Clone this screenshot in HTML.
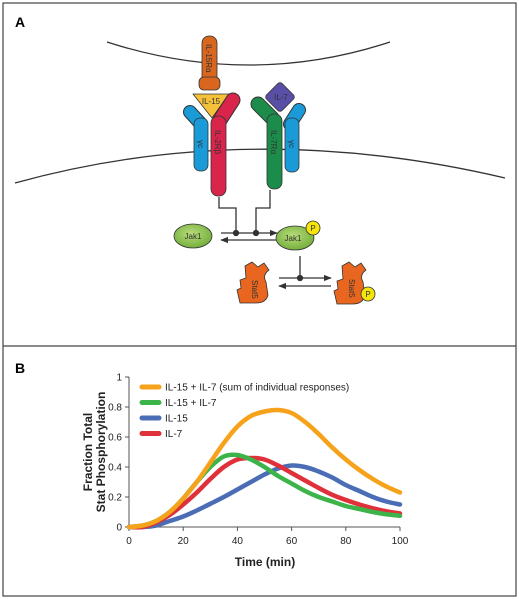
<!DOCTYPE html>
<html><head><meta charset="utf-8"><style>
body{margin:0;background:#fff;font-family:"Liberation Sans",sans-serif}
svg{display:block}
text{font-family:"Liberation Sans",sans-serif}
</style></head><body>
<svg width="519" height="599" viewBox="0 0 519 599">
<defs>
<marker id="ah" viewBox="0 0 10 10" refX="9" refY="5" markerWidth="6" markerHeight="6" orient="auto"><path d="M0,1 L10,5 L0,9 z" fill="#333"/></marker>
<radialGradient id="jg" cx="0.45" cy="0.4" r="0.7"><stop offset="0" stop-color="#b8dc7a"/><stop offset="1" stop-color="#6aa832"/></radialGradient>
</defs>
<rect x="3" y="3" width="513" height="593" fill="none" stroke="#444" stroke-width="1.2"/>
<line x1="3" y1="346" x2="516" y2="346" stroke="#444" stroke-width="1.2"/>
<text x="15" y="27" font-size="14" font-weight="bold">A</text>
<text x="15" y="373" font-size="14" font-weight="bold">B</text>

<g>
<path d="M107,42 Q250,88 390,42" fill="none" stroke="#333" stroke-width="1.3"/>
<path d="M15,183 Q250,118 505,178" fill="none" stroke="#333" stroke-width="1.3"/>
<g>
<rect x="202" y="36" width="15" height="50" rx="7" fill="#d9661f" stroke="#333" stroke-width="0.8"/>
<rect x="199" y="77" width="21" height="13" rx="5" fill="#d9661f" stroke="#333" stroke-width="0.8"/>
<text transform="translate(206,44) rotate(90)" font-size="8" fill="#333">IL-15Rα</text>
</g>
<g>
<path d="M193,94 L229,94 L212,118 Z" fill="#f5c13a" stroke="#333" stroke-width="0.8" stroke-linejoin="round"/>
<text x="211" y="104" font-size="8" text-anchor="middle" fill="#333">IL-15</text>
</g>
<g>
<path d="M190,112 L201,124" stroke="#333" stroke-width="14" stroke-linecap="round"/>
<path d="M190,112 L201,124" stroke="#1a9ad6" stroke-width="12" stroke-linecap="round"/>
<rect x="194" y="118" width="14" height="53" rx="6" fill="#1a9ad6" stroke="#333" stroke-width="0.8"/>
<text transform="translate(198,140) rotate(90)" font-size="8" fill="#333">γc</text>
</g>
<g>
<path d="M233,100 L220,120" stroke="#333" stroke-width="15" stroke-linecap="round"/>
<path d="M233,100 L220,120" stroke="#d9254c" stroke-width="13" stroke-linecap="round"/>
<rect x="211" y="116" width="15" height="80" rx="7" fill="#d9254c" stroke="#333" stroke-width="0.8"/>
<text transform="translate(215,130) rotate(90)" font-size="8" fill="#333">IL-2Rβ</text>
</g>
<g>
<path d="M258,104 L272,118" stroke="#333" stroke-width="15" stroke-linecap="round"/>
<path d="M258,104 L272,118" stroke="#1c8c4a" stroke-width="13" stroke-linecap="round"/>
<rect x="267" y="114" width="15" height="75" rx="7" fill="#1c8c4a" stroke="#333" stroke-width="0.8"/>
<text transform="translate(271,130) rotate(90)" font-size="8" fill="#333">IL-7Rα</text>
</g>
<g>
<rect x="269" y="86" width="22" height="22" rx="3" transform="rotate(45 280 97)" fill="#5a4fa6" stroke="#333" stroke-width="0.8"/>
<text x="281" y="100" font-size="8" text-anchor="middle" fill="#333">IL-7</text>
</g>
<g>
<path d="M299,110 L290,124" stroke="#333" stroke-width="14" stroke-linecap="round"/>
<path d="M299,110 L290,124" stroke="#1a9ad6" stroke-width="12" stroke-linecap="round"/>
<rect x="285" y="118" width="14" height="54" rx="6" fill="#1a9ad6" stroke="#333" stroke-width="0.8"/>
<text transform="translate(289,140) rotate(90)" font-size="8" fill="#333">γc</text>
</g>
<g stroke="#333" stroke-width="1.3" fill="none">
<path d="M219,197 V208 H236 V233"/>
<path d="M270,190 V208 H256 V233"/>
<line x1="221" y1="233" x2="277" y2="233" marker-end="url(#ah)"/>
<line x1="277" y1="240" x2="221" y2="240" marker-end="url(#ah)"/>
<circle cx="236" cy="233" r="2.5" fill="#333"/>
<circle cx="256" cy="233" r="2.5" fill="#333"/>
<path d="M300,256 V278"/>
<line x1="279" y1="278" x2="331" y2="278" marker-end="url(#ah)"/>
<line x1="331" y1="286" x2="279" y2="286" marker-end="url(#ah)"/>
<circle cx="300" cy="278" r="2.5" fill="#333"/>
</g>
<g>
<ellipse cx="193" cy="236" rx="19" ry="12" fill="url(#jg)" stroke="#333" stroke-width="0.8"/>
<text x="193" y="239" font-size="8" text-anchor="middle" fill="#333">Jak1</text>
</g>
<g>
<ellipse cx="295" cy="238" rx="19" ry="12" fill="url(#jg)" stroke="#333" stroke-width="0.8"/>
<text x="293" y="241" font-size="8" text-anchor="middle" fill="#333">Jak1</text>
<circle cx="313" cy="228" r="7" fill="#f5e50a" stroke="#333" stroke-width="0.8"/>
<text x="313" y="231" font-size="8" text-anchor="middle" fill="#333">P</text>
</g>
<g>
<path d="M245,266 L252,262 L258,267 L264,263 L269,270 Q262,275 266,282 L268,295 Q266,303 256,303 L240,303 L237,290 L241,288 L240,280 L246,278 Z" fill="#e8661f" stroke="#333" stroke-width="0.8"/>
<text transform="translate(252,280) rotate(90)" font-size="8" fill="#333">Stat5</text>
</g>
<g>
<path d="M342,266 L349,262 L355,267 L361,263 L366,270 Q359,275 363,282 L365,295 Q363,304 353,304 L337,304 L334,291 L338,289 L337,281 L343,279 Z" fill="#e8661f" stroke="#333" stroke-width="0.8"/>
<text transform="translate(349,279) rotate(90)" font-size="8" fill="#333">Stat5</text>
<circle cx="368" cy="294" r="7" fill="#f5e50a" stroke="#333" stroke-width="0.8"/>
<text x="368" y="297" font-size="8" text-anchor="middle" fill="#333">P</text>
</g>
</g>

<g id="chart"></g>
</svg>
<script>
const times=[0,5,10,15,20,25,30,35,40,45,50,55,60,65,70,75,80,85,90,95,100];
const sumSeries=[0,0.01,0.04,0.1,0.19,0.3,0.43,0.56,0.67,0.74,0.77,0.78,0.76,0.7,0.62,0.53,0.45,0.38,0.32,0.27,0.23];
const comboSeries=[0,0.01,0.04,0.1,0.19,0.3,0.4,0.47,0.48,0.45,0.4,0.34,0.29,0.24,0.2,0.17,0.14,0.12,0.1,0.085,0.075];
const il15Series=[0,0,0.01,0.04,0.07,0.11,0.155,0.2,0.25,0.3,0.35,0.39,0.41,0.4,0.37,0.33,0.28,0.24,0.2,0.17,0.15];
const il7Series=[0,0,0.03,0.08,0.15,0.23,0.32,0.4,0.45,0.46,0.45,0.41,0.36,0.31,0.26,0.215,0.18,0.15,0.125,0.105,0.09];
const xTicks=[0,20,40,60,80,100];
const yTicks=[0,0.2,0.4,0.6,0.8,1];
const yTickLabels=["0","0.2","0.4","0.6","0.8","1"];
const seriesNames=["IL-15 + IL-7 (sum of individual responses)","IL-15 + IL-7","IL-15","IL-7"];
const seriesColors=["#f7a21b","#3cb44a","#4a6db5","#e0303a"];

const NS="http://www.w3.org/2000/svg";
const g=document.getElementById('chart');
const X0=129,X1=400,Y0=527,Y1=377;
const sx=v=>X0+(v-0)/(100-0)*(X1-X0);
const sy=v=>Y0-(v-0)/(1-0)*(Y0-Y1);
function mk(tag,attrs,parent){const e=document.createElementNS(NS,tag);for(const k in attrs)e.setAttribute(k,attrs[k]);(parent||g).appendChild(e);return e;}

const xa=mk('line',{x1:X0,y1:Y0,x2:X1,y2:Y0,stroke:'#555','stroke-width':1});


const ya=mk('line',{x1:X0,y1:Y0,x2:X0,y2:Y1,stroke:'#555','stroke-width':1});


xTicks.forEach(t=>{
  const l=mk('line',{x1:sx(t),y1:Y0,x2:sx(t),y2:Y0+4,stroke:'#555'});
  
  
  const tx=mk('text',{x:sx(t),y:Y0+17,'font-size':10,'text-anchor':'middle',fill:'#222'});
  tx.textContent=String(t);
  
  
});
yTicks.forEach((t,i)=>{
  const l=mk('line',{x1:X0-4,y1:sy(t),x2:X0,y2:sy(t),stroke:'#555'});
  
  
  const tx=mk('text',{x:X0-7,y:sy(t)+3.5,'font-size':10,'text-anchor':'end',fill:'#222'});
  tx.textContent=yTickLabels[i];
  
  
});
const xt=mk('text',{x:265,y:566,'font-size':12,'font-weight':'bold','text-anchor':'middle',fill:'#222'});
xt.textContent='Time (min)';


const yt=mk('text',{transform:'translate(92,452) rotate(-90)','font-size':12,'font-weight':'bold','text-anchor':'middle',fill:'#222'});


const t1=mk('tspan',{x:0,y:0},yt);t1.textContent='Fraction Total';
const t2=mk('tspan',{x:0,y:13},yt);t2.textContent='Stat Phosphorylation';

function smooth(xs,ys){
  const p=xs.map((x,i)=>[sx(x),sy(ys[i])]);
  let d='M'+p[0][0]+','+p[0][1];
  for(let i=0;i<p.length-1;i++){
    const a=p[i-1]||p[i],b=p[i],c=p[i+1],e=p[i+2]||c;
    const c1=[b[0]+(c[0]-a[0])/6,b[1]+(c[1]-a[1])/6];
    const c2=[c[0]-(e[0]-b[0])/6,c[1]-(e[1]-b[1])/6];
    d+=' C'+c1[0].toFixed(1)+','+c1[1].toFixed(1)+' '+c2[0].toFixed(1)+','+c2[1].toFixed(1)+' '+c[0].toFixed(1)+','+c[1].toFixed(1);
  }
  return d;
}
const order=[[il15Series,2],[il7Series,3],[comboSeries,1],[sumSeries,0]];
order.forEach(([s,ci])=>{
  const p=mk('path',{d:smooth(times,s),fill:'none',stroke:seriesColors[ci],'stroke-width':4.5,'stroke-linecap':'round'});
  
  
});
seriesNames.forEach((n,i)=>{
  const y=387+i*15.5;
  const l=mk('line',{x1:142,y1:y,x2:159,y2:y,stroke:seriesColors[i],'stroke-width':5,'stroke-linecap':'round'});
  
  
  const t=mk('text',{x:165,y:y+3.5,'font-size':10,fill:'#222'});
  t.textContent=n;
  
  
});
</script>
</body></html>
